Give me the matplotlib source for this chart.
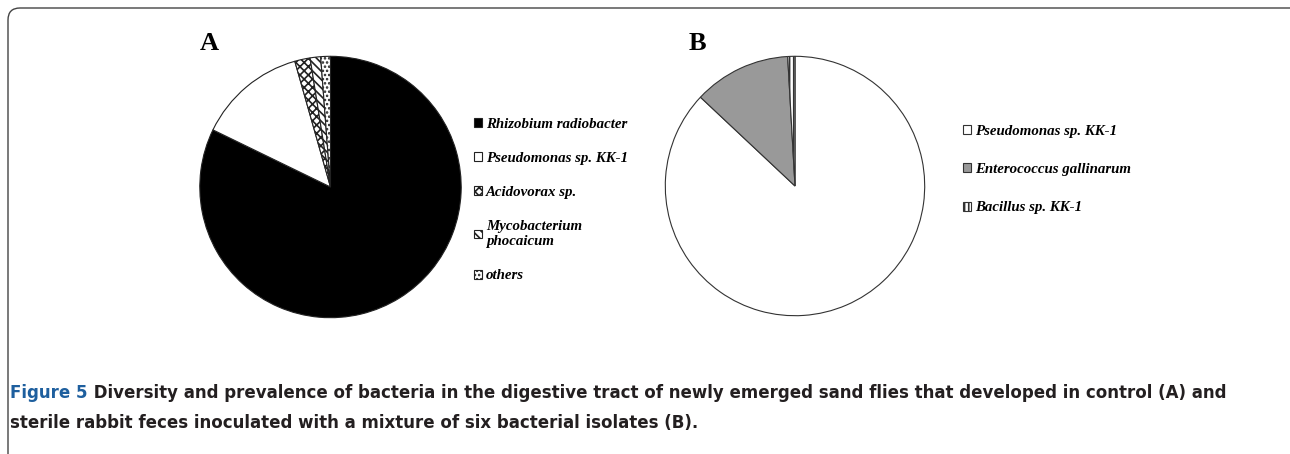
import matplotlib
matplotlib.use("Agg")
import matplotlib.pyplot as plt
from matplotlib.patches import FancyBboxPatch

# panel A: control
labels_a = ["Rhizobium radiobacter", "Pseudomonas sp. KK-1", "Acidovorax sp.",
            "Mycobacterium\nphocaicum", "others"]
values_a = [82.2, 13.4, 1.9, 1.3, 1.2]
colors_a = ["black", "white", "white", "white", "white"]
hatch_a = [None, None, "xxxx", "\\\\\\\\", "...."]

# panel B: sterile feces + six isolates
labels_b = ["Pseudomonas sp. KK-1", "Enterococcus gallinarum", "Bacillus sp. KK-1"]
values_b = [87.0, 12.1, 0.9]
colors_b = ["white", "#999999", "white"]
hatch_b = [None, None, "||||"]

caption_1 = ("Diversity and prevalence of bacteria in the digestive tract of newly "
             "emerged sand flies that developed in control (A) and")
caption_2 = "sterile rabbit feces inoculated with a mixture of six bacterial isolates (B)."

W, H = 1290, 454
fig = plt.figure(figsize=(W / 100, H / 100), dpi=100)
plt.rcParams["hatch.linewidth"] = 1.2

# rounded frame (runs off the right and bottom edges)
frame = FancyBboxPatch((8, -40), W + 30, H - 8 + 40,
                       boxstyle="round,pad=0,rounding_size=12",
                       transform=None, fc="none", ec="#444444", lw=1.0)
fig.patches.append(frame)

serif = "Liberation Serif"


def pie_axes(cx, cy, r):
    return fig.add_axes([(cx - r) / W, (H - cy - r) / H, 2 * r / W, 2 * r / H])


def draw_pie(ax, vals, cols, hatches, ec):
    wedges, _ = ax.pie(vals, colors=cols, startangle=90, counterclock=False,
                       wedgeprops=dict(edgecolor=ec, linewidth=0.8))
    for w, h in zip(wedges, hatches):
        if h:
            w.set_hatch(h)
    ax.set_xlim(-1.01, 1.01)
    ax.set_ylim(-1.01, 1.01)
    ax.set_aspect("equal")
    ax.axis("off")
    return wedges


ax_a = pie_axes(330.5, 187, 132)
wa = draw_pie(ax_a, values_a, colors_a, hatch_a, "#222222")
ax_b = pie_axes(795, 186, 131)
wb = draw_pie(ax_b, values_b, colors_b, hatch_b, "#333333")

leg_font = dict(family=serif, style="italic", weight="bold", size=10.7)
fig.legend(wa, labels_a, loc="upper left", bbox_to_anchor=(468 / W, 1 - 112 / H),
           frameon=False, prop=leg_font, handlelength=0.55, handleheight=0.55,
           handletextpad=0.25, labelspacing=1.42, borderaxespad=0)
fig.legend(wb, labels_b, loc="upper left", bbox_to_anchor=(957 / W, 1 - 119 / H),
           frameon=False, prop=leg_font, handlelength=0.55, handleheight=0.55,
           handletextpad=0.25, labelspacing=1.7, borderaxespad=0)

fig.text(209 / W, 1 - 44 / H, "A", family=serif, weight="bold", size=19,
         ha="center", va="center")
fig.text(697 / W, 1 - 44 / H, "B", family=serif, weight="bold", size=19,
         ha="center", va="center")

cap_font = ["DejaVu Sans"]
t1 = fig.text(10 / W, 1 - 393 / H, "Figure 5", family=cap_font, weight="bold",
              size=12, color="#1e5f9e", va="center")
ax_a.annotate(" " + caption_1, xy=(1, 0.5), xycoords=t1, va="center", ha="left",
              family=cap_font, weight="bold", size=12, color="#231f20",
              annotation_clip=False)
fig.text(10 / W, 1 - 423 / H, caption_2, family=cap_font, weight="bold", size=12,
         color="#231f20", va="center")

fig.savefig("out.png", dpi=100)
